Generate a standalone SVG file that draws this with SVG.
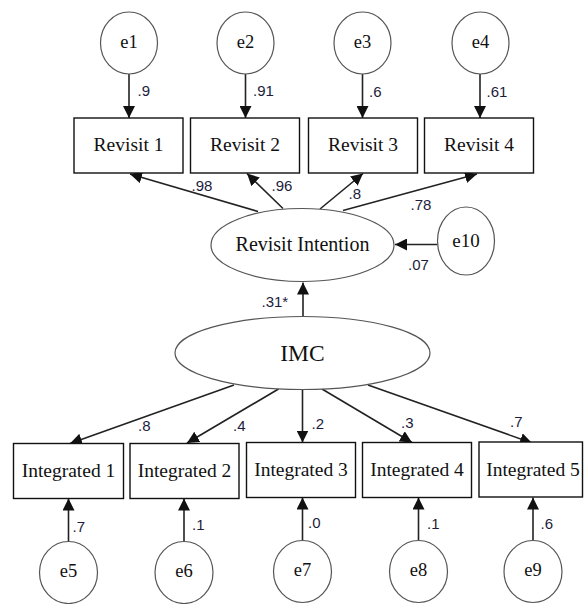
<svg xmlns="http://www.w3.org/2000/svg" width="584" height="604" viewBox="0 0 584 604">
<defs>
<marker id="ah" markerUnits="userSpaceOnUse" markerWidth="12" markerHeight="12" viewBox="0 0 10 10" refX="10" refY="5" orient="auto">
<path d="M0,0 L10,5 L0,10 z" fill="#111"/>
</marker>
</defs>
<style>
.err{fill:#fff;stroke:#555;stroke-width:1.2}
.lat{fill:#fff;stroke:#555;stroke-width:1.2}
.box{fill:#fff;stroke:#111;stroke-width:1.4}
.t{font-family:"Liberation Serif","Times New Roman",serif;fill:#111;text-anchor:middle}
.l{font-family:"Liberation Sans",Arial,sans-serif;font-size:15px;fill:#1c1c3c}
.c line{stroke:#222;stroke-width:1.6;marker-end:url(#ah)}
</style>
<rect width="584" height="604" fill="#fff"/>
<g class="c" id="connectors">
<line x1="129" y1="74" x2="129" y2="118"/>
<line x1="245.5" y1="74" x2="245.5" y2="118"/>
<line x1="362.5" y1="74" x2="362.5" y2="118"/>
<line x1="480" y1="74" x2="480" y2="118"/>
<line x1="258" y1="211.5" x2="130" y2="174"/>
<line x1="283" y1="208.5" x2="247" y2="173.5"/>
<line x1="320" y1="209" x2="363" y2="173.5"/>
<line x1="343" y1="210.5" x2="477" y2="174"/>
<line x1="437.5" y1="244.5" x2="395" y2="244.5"/>
<line x1="303" y1="316.5" x2="303" y2="282.5"/>
<line x1="234" y1="385" x2="70" y2="443.5"/>
<line x1="278.5" y1="389" x2="187" y2="443"/>
<line x1="302.5" y1="389.5" x2="302.5" y2="442.5"/>
<line x1="322" y1="389" x2="412" y2="442.5"/>
<line x1="368" y1="385" x2="532" y2="443"/>
<line x1="68.5" y1="541.5" x2="68.5" y2="498.5"/>
<line x1="184" y1="541.5" x2="184" y2="498.5"/>
<line x1="302.5" y1="540" x2="302.5" y2="497.5"/>
<line x1="418.5" y1="540" x2="418.5" y2="497.5"/>
<line x1="533" y1="540" x2="533" y2="497.5"/>
</g>
<g id="e1"><ellipse class="err" cx="129" cy="43" rx="28.5" ry="31"/><text class="t" x="129" y="48" font-size="18.5">e1</text></g>
<g id="e2"><ellipse class="err" cx="245.5" cy="43" rx="28.5" ry="31"/><text class="t" x="245.5" y="48" font-size="18.5">e2</text></g>
<g id="e3"><ellipse class="err" cx="362.5" cy="43" rx="28.5" ry="31"/><text class="t" x="362.5" y="48" font-size="18.5">e3</text></g>
<g id="e4"><ellipse class="err" cx="480.5" cy="43" rx="28.5" ry="31"/><text class="t" x="480.5" y="48" font-size="18.5">e4</text></g>
<g id="revisit1"><rect class="box" x="74" y="118" width="109" height="55"/><text class="t" x="128.5" y="151" font-size="19.5">Revisit 1</text></g>
<g id="revisit2"><rect class="box" x="190.5" y="118" width="109" height="55"/><text class="t" x="245" y="151" font-size="19.5">Revisit 2</text></g>
<g id="revisit3"><rect class="box" x="308.5" y="118" width="109" height="55"/><text class="t" x="363" y="151" font-size="19.5">Revisit 3</text></g>
<g id="revisit4"><rect class="box" x="424.5" y="118" width="109" height="55"/><text class="t" x="479" y="151" font-size="19.5">Revisit 4</text></g>
<g id="revisit-intention"><ellipse class="lat" cx="302.5" cy="245" rx="91.5" ry="36.5"/><text class="t" x="302.5" y="251" font-size="20">Revisit Intention</text></g>
<g id="e10"><ellipse class="err" cx="466" cy="241" rx="28.5" ry="34"/><text class="t" x="466" y="247" font-size="19">e10</text></g>
<g id="imc"><ellipse class="lat" cx="302.5" cy="353" rx="127.5" ry="36.5"/><text class="t" x="302.5" y="361" font-size="23.5">IMC</text></g>
<g id="integrated1"><rect class="box" x="13.5" y="443.5" width="110" height="55"/><text class="t" x="68.5" y="477" font-size="19.5">Integrated 1</text></g>
<g id="integrated2"><rect class="box" x="130" y="443.5" width="109" height="55"/><text class="t" x="184.5" y="477" font-size="19.5">Integrated 2</text></g>
<g id="integrated3"><rect class="box" x="246.5" y="442.5" width="109" height="55"/><text class="t" x="301" y="475.5" font-size="19.5">Integrated 3</text></g>
<g id="integrated4"><rect class="box" x="362.5" y="442.5" width="109" height="55"/><text class="t" x="417" y="476" font-size="19.5">Integrated 4</text></g>
<g id="integrated5"><rect class="box" x="479" y="442" width="103.5" height="55"/><text class="t" x="533" y="476" font-size="19.5">Integrated 5</text></g>
<g id="e5"><ellipse class="err" cx="68.5" cy="572.5" rx="29" ry="31"/><text class="t" x="68.5" y="577" font-size="18.5">e5</text></g>
<g id="e6"><ellipse class="err" cx="184" cy="572.5" rx="29" ry="31"/><text class="t" x="184" y="577" font-size="18.5">e6</text></g>
<g id="e7"><ellipse class="err" cx="302.5" cy="571.5" rx="29" ry="31"/><text class="t" x="302.5" y="576" font-size="18.5">e7</text></g>
<g id="e8"><ellipse class="err" cx="418.5" cy="571.5" rx="29" ry="31"/><text class="t" x="418.5" y="576" font-size="18.5">e8</text></g>
<g id="e9"><ellipse class="err" cx="533" cy="571.5" rx="29" ry="31"/><text class="t" x="533" y="576" font-size="18.5">e9</text></g>
<g id="labels">
<text class="l" x="137.5" y="96">.9</text>
<text class="l" x="253" y="96">.91</text>
<text class="l" x="369" y="96.5">.6</text>
<text class="l" x="486.5" y="96.5">.61</text>
<text class="l" x="191.5" y="191">.98</text>
<text class="l" x="271.5" y="191">.96</text>
<text class="l" x="348.5" y="199">.8</text>
<text class="l" x="410.5" y="210">.78</text>
<text class="l" x="408" y="270">.07</text>
<text class="l" x="261.5" y="307">.31*</text>
<text class="l" x="138" y="431">.8</text>
<text class="l" x="233" y="431">.4</text>
<text class="l" x="311.5" y="428.5">.2</text>
<text class="l" x="401" y="427.5">.3</text>
<text class="l" x="510" y="427">.7</text>
<text class="l" x="72.5" y="532">.7</text>
<text class="l" x="192" y="529.5">.1</text>
<text class="l" x="308" y="527.5">.0</text>
<text class="l" x="427" y="528.5">.1</text>
<text class="l" x="540.5" y="528.5">.6</text>
</g>
</svg>
